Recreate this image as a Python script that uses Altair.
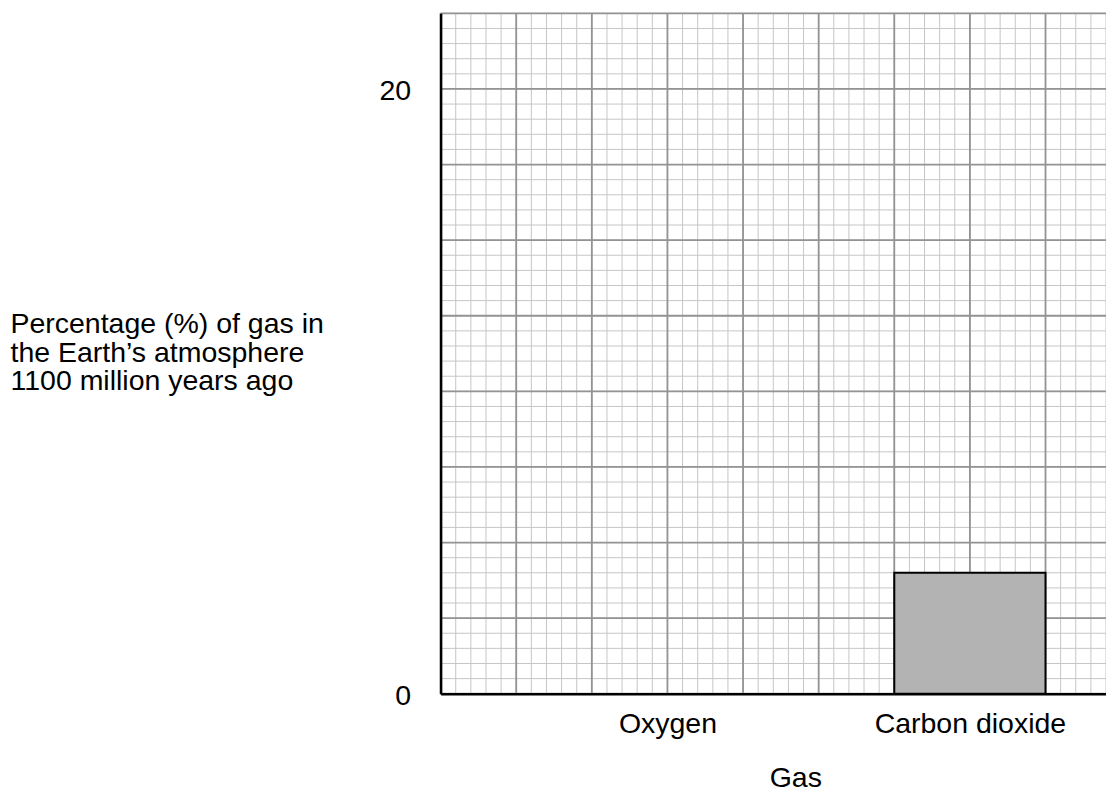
import altair as alt
import numpy as np
import pandas as pd

# ---- data ----
gases = ["Oxygen", "Carbon dioxide"]
gas_positions = [7.5, 17.5]
percentages = [None, 4.0]
y_tick_values = [0, 20]
y_title_lines = [
    "Percentage (%) of gas in",
    "the Earth\u2019s atmosphere",
    "1100 million years ago",
]
x_title = "Gas"

x_max = 22.0
y_max = 22.5
minor_step = 0.5
major_step = 2.5
bar_half_width = 2.5

FONT = "Liberation Sans"
FS = 28.5

bars = pd.DataFrame({"gas": gases, "pos": gas_positions, "pct": percentages}).dropna()
bars["x0"] = bars["pos"] - bar_half_width
bars["x1"] = bars["pos"] + bar_half_width

minor_x = pd.DataFrame({"v": np.arange(0, x_max + 1e-6, minor_step)})
minor_y = pd.DataFrame({"v": np.arange(0, y_max + 1e-6, minor_step)})
major_x = pd.DataFrame({"v": np.arange(0, x_max + 1e-6, major_step)})
major_y = pd.DataFrame({"v": np.arange(0, y_max + 1e-6, major_step)})

xs = alt.Scale(domain=[0, x_max], nice=False, zero=False)
ys = alt.Scale(domain=[0, y_max], nice=False, zero=False)

label_expr = "''"
for p, g in reversed(list(zip(gas_positions, gases))):
    label_expr = f"datum.value == {p} ? '{g}' : ({label_expr})"

x_axis = alt.Axis(
    values=gas_positions, labelExpr=label_expr, grid=False, ticks=False, tickSize=0,
    labelFont=FONT, labelFontSize=FS, labelColor="black", labelPadding=16,
    labelFlush=False, labelLimit=500, labelOverlap=False,
    domainColor="black", domainWidth=2.5,
    title=x_title, titleFont=FONT, titleFontSize=FS, titleFontWeight="normal",
    titleColor="black", titleX=355, titleY=93, titleBaseline="alphabetic",
    titleAlign="center", zindex=2)
y_axis = alt.Axis(
    values=y_tick_values, grid=False, ticks=False, tickSize=0,
    labelFont=FONT, labelFontSize=FS, labelColor="black", labelPadding=30,
    labelOffset=2,
    domainColor="black", domainWidth=2.5,
    title=y_title_lines, titleFont=FONT, titleFontSize=FS, titleFontWeight="normal",
    titleColor="black", titleAngle=0, titleAlign="left", titleBaseline="alphabetic",
    titleX=-431, titleY=319, titleLineHeight=29, titleLimit=600, zindex=2)

minor_col = "#c6c6c6"
major_col = "#939393"


def vrules(df, color, width):
    return alt.Chart(df).mark_rule(color=color, strokeWidth=width).encode(
        x=alt.X("v:Q", scale=xs, axis=x_axis),
        y=alt.YDatum(0, scale=ys, axis=y_axis),
        y2=alt.datum(y_max),
    )


def hrules(df, color, width):
    return alt.Chart(df).mark_rule(color=color, strokeWidth=width).encode(
        y=alt.Y("v:Q", scale=ys, axis=y_axis),
        x=alt.XDatum(0, scale=xs, axis=x_axis),
        x2=alt.datum(x_max),
    )


l_bar = alt.Chart(bars).mark_rect(fill="#b3b3b3", stroke="black", strokeWidth=2).encode(
    x=alt.X("x0:Q", scale=xs, axis=x_axis),
    x2="x1:Q",
    y=alt.Y("pct:Q", scale=ys, axis=y_axis),
    y2=alt.datum(0),
)

chart = alt.layer(
    vrules(minor_x, minor_col, 1), hrules(minor_y, minor_col, 1),
    vrules(major_x, major_col, 1.8), hrules(major_y, major_col, 1.8),
    l_bar,
).properties(
    width=666, height=681,
    autosize=alt.AutoSizeParams(type="none"),
    padding={"left": 433, "top": 5, "right": 0, "bottom": 98},
    background="white",
).configure_view(stroke=None)

chart.save("out.html", embed_options={"renderer": "svg", "actions": False})
